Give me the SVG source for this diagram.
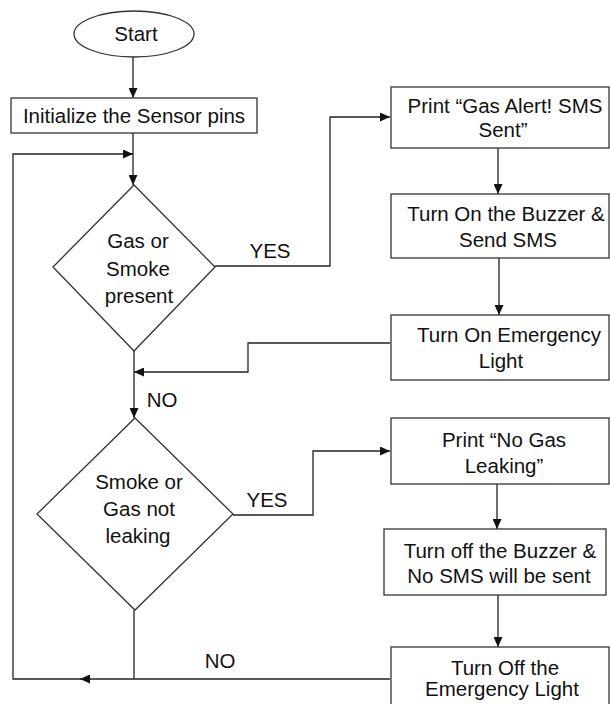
<svg xmlns="http://www.w3.org/2000/svg" width="610" height="704" viewBox="0 0 610 704">
<style>
.shape{fill:#fff;stroke:#333;stroke-width:1.3}
.line{fill:none;stroke:#222;stroke-width:1.3}
text{font-family:"Liberation Sans",Arial,sans-serif;font-size:20.5px;fill:#111;text-anchor:middle}
</style>
<defs>
<marker id="arr" markerWidth="10" markerHeight="9" refX="10" refY="4.5" orient="auto" markerUnits="userSpaceOnUse">
<path d="M0,0 L10,4.5 L0,9 z" fill="#111"/>
</marker>
</defs>
<rect width="610" height="704" fill="#fff"/>
<g id="connectors">
<path class="line" d="M133,57 V98" marker-end="url(#arr)"/>
<path class="line" d="M133,133 V185" marker-end="url(#arr)"/>
<path class="line" d="M215,266 H330 V117 H390" marker-end="url(#arr)"/>
<path class="line" d="M498,148 V194" marker-end="url(#arr)"/>
<path class="line" d="M499,258 V315" marker-end="url(#arr)"/>
<path class="line" d="M390,343 H248 V372 H134" marker-end="url(#arr)"/>
<path class="line" d="M134,351 V418" marker-end="url(#arr)"/>
<path class="line" d="M233,515 H313 V451 H390" marker-end="url(#arr)"/>
<path class="line" d="M497,484 V529" marker-end="url(#arr)"/>
<path class="line" d="M498,595 V647" marker-end="url(#arr)"/>
<path class="line" d="M134,610 V679"/>
<path class="line" d="M390,679 H80" marker-end="url(#arr)"/>
<path class="line" d="M81,679 H13 V154 H133" marker-end="url(#arr)"/>
<text x="270" y="258">YES</text>
<text x="162" y="407">NO</text>
<text x="267" y="507">YES</text>
<text x="220" y="668">NO</text>
</g>
<g id="start">
<ellipse class="shape" cx="134" cy="34" rx="60" ry="23"/>
<text x="136" y="41">Start</text>
</g>
<g id="init">
<rect class="shape" x="11" y="98" width="246" height="35"/>
<text x="134" y="123">Initialize the Sensor pins</text>
</g>
<g id="decision1">
<polygon class="shape" points="134,185 215,267 134,351 53,267"/>
<text x="138" y="248">Gas or</text>
<text x="138" y="276">Smoke</text>
<text x="139" y="303">present</text>
</g>
<g id="printAlert">
<rect class="shape" x="391" y="87" width="218" height="61"/>
<text x="505" y="113">Print “Gas Alert! SMS</text>
<text x="503" y="137">Sent”</text>
</g>
<g id="buzzerOn">
<rect class="shape" x="391" y="194" width="218" height="64"/>
<text x="506" y="221">Turn On the Buzzer &amp;</text>
<text x="508" y="247">Send SMS</text>
</g>
<g id="lightOn">
<rect class="shape" x="391" y="315" width="218" height="65"/>
<text x="509" y="342">Turn On Emergency</text>
<text x="501" y="368">Light</text>
</g>
<g id="decision2">
<polygon class="shape" points="135,418 233,514 135,610 37,514"/>
<text x="139" y="489">Smoke or</text>
<text x="139" y="516">Gas not</text>
<text x="138" y="543">leaking</text>
</g>
<g id="printNoGas">
<rect class="shape" x="391" y="418" width="218" height="66"/>
<text x="504" y="447">Print “No Gas</text>
<text x="504" y="473">Leaking”</text>
</g>
<g id="buzzerOff">
<rect class="shape" x="384" y="529" width="222" height="66"/>
<text x="500" y="558">Turn off the Buzzer &amp;</text>
<text x="499" y="583">No SMS will be sent</text>
</g>
<g id="lightOff">
<rect class="shape" x="391" y="647" width="218" height="70"/>
<text x="505" y="675">Turn Off the</text>
<text x="502" y="696">Emergency Light</text>
</g>
</svg>
